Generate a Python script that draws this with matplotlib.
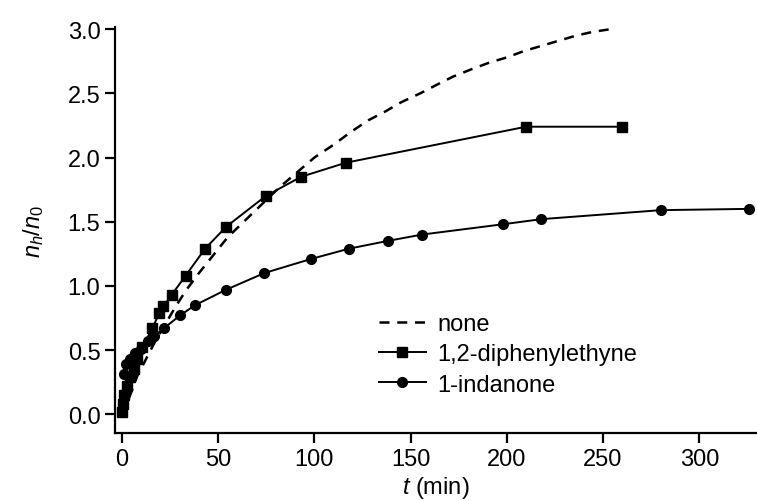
import matplotlib
matplotlib.use("Agg")
import matplotlib.pyplot as plt

plt.rcParams['font.family'] = ['Liberation Sans', 'DejaVu Sans']
plt.rcParams['mathtext.fontset'] = 'custom'
plt.rcParams['mathtext.it'] = 'Liberation Sans:italic'
plt.rcParams['mathtext.rm'] = 'Liberation Sans'

# "none" (dashed curve)
t_none = [0, 3, 8, 17, 27.5, 33.5, 40, 47.5, 55, 64, 82, 100, 110, 119, 128, 137, 145, 155, 164, 172,
          182, 191, 200, 209, 218, 227, 236, 245, 254]
y_none = [0, 0.1, 0.3, 0.56, 0.83, 0.97, 1.10, 1.24, 1.38, 1.51, 1.77, 2.0, 2.10, 2.20, 2.29, 2.36, 2.43,
          2.50, 2.57, 2.63, 2.69, 2.74, 2.78, 2.83, 2.87, 2.91, 2.95, 2.98, 3.0]

# 1,2-diphenylethyne (squares)
t_dpe = [0, 0.3, 1.2, 2.6, 4.4, 6, 7.8, 10.5, 15.8, 19.4, 21.5, 25.8, 33.1, 43.2, 54.1, 74.7, 93.1, 116.5, 210, 260]
y_dpe = [0.02, 0.08, 0.15, 0.22, 0.29, 0.35, 0.43, 0.52, 0.67, 0.79, 0.84, 0.93, 1.08, 1.29, 1.46, 1.70,
         1.85, 1.96, 2.24, 2.24]

# 1-indanone (circles)
t_ind = [0.9, 2.3, 4.4, 7, 10, 13.7, 16.5, 21.8, 30.2, 38, 54.1, 74, 98.3, 118, 138, 156, 198, 218, 280, 326]
y_ind = [0.31, 0.39, 0.43, 0.48, 0.51, 0.57, 0.61, 0.67, 0.77, 0.85, 0.97, 1.10, 1.21, 1.29, 1.35, 1.40,
         1.48, 1.52, 1.59, 1.60]

fig = plt.figure(figsize=(7.57, 5.02), dpi=100)
ax = fig.add_axes([0.152, 0.135, 0.848, 0.809])

ax.plot(t_none, y_none, color='black', lw=1.8, ls=(0, (4, 3.1)), label='none')
ax.plot(t_dpe, y_dpe, color='black', lw=1.4, marker='s', ms=7, label='1,2-diphenylethyne')
ax.plot(t_ind, y_ind, color='black', lw=1.4, marker='o', ms=7, label='1-indanone')

ax.set_xlim(-3.6, 330)
ax.set_ylim(-0.148, 3.016)
ax.set_xticks([0, 50, 100, 150, 200, 250, 300])
ax.set_yticks([0.0, 0.5, 1.0, 1.5, 2.0, 2.5, 3.0])
ax.set_yticklabels(['0.0', '0.5', '1.0', '1.5', '2.0', '2.5', '3.0'])

for s in ['top', 'right']:
    ax.spines[s].set_visible(False)
for s in ['left', 'bottom']:
    ax.spines[s].set_linewidth(1.6)
ax.tick_params(direction='out', length=7, width=1.6, labelsize=17)

ax.set_xlabel('$t$ (min)', fontsize=17, labelpad=3)
ax.set_ylabel('$n_h/n_0$', fontsize=17, labelpad=16)

ax.legend(loc='upper left', bbox_to_anchor=(0.392, 0.325), frameon=False, fontsize=17,
          handlelength=2.0, handletextpad=0.5, labelspacing=0.35, borderpad=0)

fig.savefig('out.png', dpi=100)
